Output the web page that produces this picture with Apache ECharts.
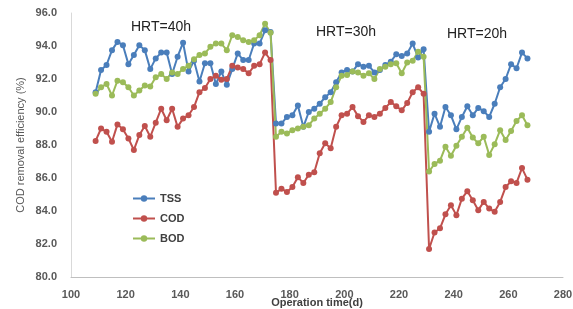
<!DOCTYPE html>
<html>
  <head>
    <meta charset="UTF-8" />
    <title>COD removal efficiency</title>
    <style>
      html, body { margin: 0; padding: 0; background: #fff; }
      #main { width: 573px; height: 309px; }
    </style>
  </head>
  <body>
    <div id="main"></div>
    <script src="https://cdn.jsdelivr.net/npm/echarts@6/dist/echarts.min.js"></script>
    <script>
      // operation days (sampled every 2 days)
      const days = [
        109, 111, 113, 115, 117, 119, 121, 123, 125, 127, 129, 131, 133, 135, 137, 139,
        141, 143, 145, 147, 149, 151, 153, 155, 157, 159, 161, 163, 165, 167, 169, 171,
        173, 175, 177, 179, 181, 183, 185, 187, 189, 191, 193, 195, 197, 199, 201, 203,
        205, 207, 209, 211, 213, 215, 217, 219, 221, 223, 225, 227, 229, 231, 233, 235,
        237, 239, 241, 243, 245, 247, 249, 251, 253, 255, 257, 259, 261, 263, 265, 267
      ]

      const tss = [
        91.2, 92.55, 92.85, 93.75, 94.25, 94.05, 92.9, 93.45, 94.05, 93.75, 92.6, 93.25,
        93.6, 93.6, 92.3, 93.35, 94.2, 92.45, 93.1, 91.85, 92.95, 92.95, 91.7, 92.45,
        91.65, 92.6, 93.55, 93.15, 93.15, 94.15, 94.15, 94.95, 94.85,
        89.3, 89.3, 89.7, 89.8, 90.4, 89.1, 90.0, 90.2, 90.5, 90.9, 91.2, 91.8, 92.4,
        92.55, 92.45, 92.9, 92.75, 92.8, 92.4, 92.55, 92.85, 93.05, 93.5, 93.4, 93.55,
        94.15, 93.3, 93.8,
        88.8, 89.9, 89.1, 90.3, 89.8, 88.95, 89.7, 90.35, 89.8, 90.25, 90.05, 89.7,
        90.5, 91.5, 92.0, 92.9, 92.65, 93.6, 93.25
      ]

      const cod = [
        88.25, 89.0, 88.8, 88.2, 89.25, 88.95, 88.4, 87.7, 88.6, 89.15, 88.5, 89.35,
        90.2, 89.5, 90.2, 89.1, 89.6, 89.8, 90.3, 91.2, 91.45, 92.0, 92.2, 91.95,
        92.0, 92.8, 92.7, 92.6, 92.35, 92.8, 92.9, 93.6, 93.15,
        85.1, 85.35, 85.15, 85.45, 86.05, 85.7, 86.2, 86.35, 87.5, 88.1, 87.8, 89.1,
        89.8, 89.9, 90.3, 89.75, 89.4, 89.8, 89.7, 89.9, 90.25, 90.6, 90.35, 90.1,
        90.55, 91.2, 91.5, 91.1,
        81.7, 82.7, 82.95, 83.8, 84.35, 83.75, 84.75, 85.2, 84.65, 84.05, 84.55, 84.15,
        83.95, 84.55, 85.45, 85.8, 85.7, 86.6, 85.9
      ]

      const bod = [
        91.1, 91.5, 91.7, 91.0, 91.9, 91.8, 91.5, 91.0, 91.3, 91.6, 91.55, 92.1,
        92.3, 92.0, 92.4, 92.3, 92.6, 92.8, 93.2, 93.45, 93.55, 93.95, 94.15, 94.15,
        93.75, 94.65, 94.55, 94.35, 94.25, 94.35, 94.65, 95.35, 94.8,
        88.5, 88.8, 88.7, 88.9, 89.0, 89.1, 89.2, 89.6, 89.9, 90.2, 90.6, 91.5,
        92.2, 92.25, 92.45, 92.4, 92.2, 92.35, 92.0, 92.6, 92.75, 92.9, 92.95, 92.35,
        93.0, 93.1, 93.65, 93.35,
        86.4, 86.85, 87.05, 87.9, 87.35, 87.95, 88.5, 89.05, 88.45, 88.1, 88.5, 87.4,
        88.05, 88.9, 88.3, 88.85, 89.45, 89.8, 89.2
      ]

      const seriesNames = ['TSS', 'COD', 'BOD']
      const colors = ['#4a7ebb', '#c0504d', '#9bbb59']
      const hrtLabels = ['HRT=40h', 'HRT=30h', 'HRT=20h']

      const pairs = (vals) => days.map((d, i) => [d, vals[i]])

      const font = 'Liberation Sans, Arial, sans-serif'

      let chart = echarts.init(document.getElementById('main'), null, { renderer: 'canvas' })

      let makeSeries = (name, vals, color) => ({
        name: name,
        type: 'line',
        data: pairs(vals),
        symbol: 'circle',
        symbolSize: 6,
        color: color,
        lineStyle: { width: 2, color: color },
        itemStyle: { color: color },
        animation: false,
      })

      chart.setOption({
        animation: false,
        textStyle: { fontFamily: font },
        grid: { left: 71, right: 10, top: 13, bottom: 32, outerBoundsMode: 'none', containLabel: false },
        legend: {
          orient: 'vertical',
          left: 127,
          top: 188,
          itemWidth: 22,
          itemHeight: 8,
          itemGap: 9,
          data: seriesNames,
          textStyle: { fontSize: 11, fontWeight: 'bold', color: '#404040', fontFamily: font },
        },
        xAxis: {
          type: 'value',
          min: 100,
          max: 280,
          interval: 20,
          name: 'Operation time(d)',
          nameLocation: 'middle',
          nameGap: 20,
          nameMoveOverlap: false,
          nameTextStyle: { fontSize: 11, fontWeight: 'bold', color: '#404040' },
          axisLine: { lineStyle: { color: '#bfbfbf', width: 1 } },
          axisTick: { show: false },
          splitLine: { show: false },
          axisLabel: { fontSize: 11, fontWeight: 'bold', color: '#595959', margin: 12 },
        },
        yAxis: {
          type: 'value',
          min: 80,
          max: 96,
          interval: 2,
          name: 'COD removal efficiency (%)',
          nameLocation: 'middle',
          nameGap: 45,
          nameMoveOverlap: false,
          nameTextStyle: { fontSize: 11, color: '#595959' },
          axisLine: { show: true, lineStyle: { color: '#d9d9d9', width: 1 } },
          axisTick: { show: false },
          splitLine: { show: false },
          axisLabel: {
            fontSize: 11,
            fontWeight: 'bold',
            color: '#595959',
            margin: 14,
            formatter: (v) => v.toFixed(1),
          },
        },
        graphic: [
          { type: 'text', left: 131, top: 20, style: { text: hrtLabels[0], fontSize: 14, fill: '#222', fontFamily: font } },
          { type: 'text', left: 316, top: 25, style: { text: hrtLabels[1], fontSize: 14, fill: '#222', fontFamily: font } },
          { type: 'text', left: 447, top: 27, style: { text: hrtLabels[2], fontSize: 14, fill: '#222', fontFamily: font } },
        ],
        series: [
          makeSeries(seriesNames[0], tss, colors[0]),
          makeSeries(seriesNames[1], cod, colors[1]),
          makeSeries(seriesNames[2], bod, colors[2]),
        ],
      })
    </script>
  </body>
</html>
